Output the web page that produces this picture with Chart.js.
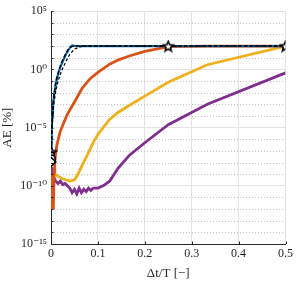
<!DOCTYPE html>
<html lang="en">
<head>
  <meta charset="UTF-8">
  <title>AE vs dt/T</title>
  <script src="https://cdn.jsdelivr.net/npm/chart.js@4.4.1/dist/chart.umd.min.js"></script>
  <style>
    body { margin: 0; background: #fff; }
  </style>
</head>
<body>
<canvas id="aeChart" width="296" height="281"></canvas>
<script>
    // values, AE given as log10 exponents
    const blueT      = [0.0005, 0.001, 0.002, 0.003, 0.004, 0.005, 1/150, 0.01, 1/80, 1/60, 0.02, 0.025, 1/30, 0.04, 0.045, 0.05, 1/15, 0.1, 0.125, 1/6, 0.2, 0.25, 1/3, 0.5];
    const blueLogAE  = [-7.4, -6.2, -5.0, -4.0, -3.3, -2.8, -2.2, -1.3, -0.8, -0.2, 0.2, 0.7, 1.4, 1.85, 2.05, 2.02, 2.0, 2.0, 2.0, 2.0, 2.0, 2.0, 2.0, 2.0];

    const dashT      = [0.0005, 0.001, 0.002, 0.003, 0.004, 0.005, 1/150, 0.01, 1/80, 1/60, 0.02, 0.025, 1/30, 0.04, 0.05, 1/15, 0.1, 0.125, 1/6, 0.2, 0.25, 1/3, 0.5];
    const dashLogAE  = [-7.7, -6.6, -5.6, -4.7, -4.0, -3.4, -2.8, -1.9, -1.4, -0.8, -0.4, 0.1, 0.8, 1.3, 1.75, 2.0, 2.0, 2.0, 2.0, 2.0, 2.0, 2.0, 2.0];

    const starT      = [0.0005, 0.001, 0.002, 0.003, 0.004, 0.005, 1/150, 0.01, 1/80, 1/60, 0.02, 0.025, 1/30, 0.04, 0.05, 1/15, 0.1, 0.125, 1/6, 0.2, 0.25, 1/3, 0.5];
    const starLogAE  = [-7.1, -6.0, -4.8, -3.9, -3.2, -2.7, -2.1, -1.2, -0.7, -0.1, 0.3, 0.8, 1.5, 1.9, 2.03, 2.0, 2.0, 2.0, 2.0, 2.0, 2.0, 2.0, 2.0];
    const starMarkAt = [0.0005, 0.25, 0.5];

    const orangeT     = [0.002, 0.003, 0.004, 0.005, 1/150, 0.008, 0.01, 1/80, 1/60, 0.02, 0.025, 1/30, 0.04, 0.05, 1/15, 1/12, 0.1, 0.125, 1/7, 1/6, 0.2, 0.25, 1/3, 0.5];
    const orangeLogAE = [-9.0, -11.9, -9.6, -12.0, -8.8, -8.0, -7.2, -6.5, -5.8, -5.3, -4.8, -4.0, -3.5, -2.8, -1.6, -0.8, -0.25, 0.45, 0.8, 1.15, 1.55, 1.95, 2.0, 2.0];

    const yellowT     = [0.002, 0.004, 1/150, 1/80, 0.02, 0.025, 1/30, 0.04, 0.05, 1/17, 1/15, 1/13, 1/11, 0.1, 1/9, 0.125, 1/7, 1/6, 0.2, 0.25, 1/3, 0.5];
    const yellowLogAE = [-8.4, -8.8, -9.0, -9.1, -9.3, -9.4, -9.5, -9.6, -9.5, -8.9, -8.2, -7.4, -6.2, -5.6, -5.0, -4.3, -3.7, -3.1, -2.3, -1.1, 0.4, 2.0];

    const purpleT     = [0.002, 0.005, 0.01, 0.015, 0.02, 0.025, 0.03, 0.035, 0.04, 0.045, 0.05, 0.055, 0.06, 0.065, 0.07, 0.075, 0.08, 0.085, 0.09, 0.1, 1/9, 0.125, 1/7, 1/6, 0.2, 0.25, 1/3, 0.5];
    const purpleLogAE = [-8.4, -9.2, -9.6, -9.8, -9.6, -9.9, -9.8, -10.0, -10.2, -10.6, -10.3, -10.7, -10.2, -10.6, -10.3, -10.5, -10.2, -10.4, -10.2, -10.2, -10.0, -9.6, -8.5, -7.4, -6.3, -4.75, -3.0, -0.3];

    // extra start markers at dt/T ~ 0 (square, circle, diamond)
    const startMarkT     = [0.0005, 0.0005, 0.0005];
    const startMarkLogAE = [-7.4, -7.7, -7.95];
    const startMarkStyle = ['rect', 'circle', 'rectRot'];

    const xTicks = [0, 0.1, 0.2, 0.3, 0.4, 0.5];
    const yDecades = [];
    for (let e = -15; e <= 5; e++) yDecades.push(e);

    const sup = {'-': '\u207B', '0': '\u2070', '1': '\u00B9', '5': '\u2075'};
    function decadeLabel(e) {
        return '10' + String(e).split('').map(c => sup[c]).join('');
    }

    function pts(ts, logs) {
        return ts.map((t, i) => ({x: t, y: Math.pow(10, logs[i])}));
    }

    // white pentagram with black outline
    function makeStar(size) {
        const c = document.createElement('canvas');
        c.width = size; c.height = size;
        const g = c.getContext('2d');
        const r = size / 2 - 1.2, ri = r * 0.45, cx = size / 2, cy = size / 2 + 0.5;
        g.beginPath();
        for (let k = 0; k < 10; k++) {
            const rad = (k % 2 === 0) ? r : ri;
            const a = -Math.PI / 2 + k * Math.PI / 5;
            g.lineTo(cx + rad * Math.cos(a), cy + rad * Math.sin(a));
        }
        g.closePath();
        g.fillStyle = '#fff';
        g.fill();
        g.lineWidth = 1.6;
        g.strokeStyle = '#000';
        g.stroke();
        return c;
    }
    const starImg = makeStar(13);

    const axisColor = '#262626';
    const gridColor = '#e3e3e3';
    const serif = "'Liberation Serif', 'DejaVu Serif', serif";

    // dotted minor grid + inward tick marks like MATLAB
    const matlabGrid = {
        id: 'matlabGrid',
        beforeDatasetsDraw(chart) {
            const ctx = chart.ctx, a = chart.chartArea, ys = chart.scales.y;
            ctx.save();
            ctx.strokeStyle = '#c4c4c4';
            ctx.lineWidth = 1;
            ctx.setLineDash([1, 2]);
            yDecades.forEach(e => {
                if (e % 5 === 0) return;
                const py = Math.round(ys.getPixelForValue(Math.pow(10, e))) + 0.5;
                ctx.beginPath();
                ctx.moveTo(a.left, py);
                ctx.lineTo(a.right, py);
                ctx.stroke();
            });
            ctx.restore();
        },
        afterDraw(chart) {
            const ctx = chart.ctx, a = chart.chartArea, ys = chart.scales.y, xs = chart.scales.x;
            ctx.save();
            ctx.strokeStyle = axisColor;
            ctx.lineWidth = 1;
            yDecades.forEach(e => {
                const py = Math.round(ys.getPixelForValue(Math.pow(10, e))) + 0.5;
                ctx.beginPath();
                ctx.moveTo(a.left, py);
                ctx.lineTo(a.left + 2.5, py);
                ctx.stroke();
            });
            xTicks.forEach(v => {
                const px = Math.round(xs.getPixelForValue(v)) + 0.5;
                ctx.beginPath();
                ctx.moveTo(px, a.bottom);
                ctx.lineTo(px, a.bottom - 2.5);
                ctx.stroke();
            });
            ctx.restore();
        }
    };

    new Chart('aeChart', {
        type: 'line',
        data: {
            datasets: [
                {
                    data: pts(startMarkT, startMarkLogAE),
                    showLine: false,
                    pointStyle: startMarkStyle,
                    pointRadius: [4, 4, 4.5],
                    pointBackgroundColor: '#fff',
                    pointBorderColor: '#000',
                    pointBorderWidth: 1.6,
                    order: 0
                },
                {
                    data: pts(starT, starLogAE),
                    borderColor: '#000',
                    borderWidth: 1.5,
                    borderDash: [4, 2],
                    pointStyle: starImg,
                    pointRadius: starT.map(t => starMarkAt.includes(t) ? 6 : 0),
                    order: 1
                },
                {
                    data: pts(dashT, dashLogAE),
                    borderColor: '#000',
                    borderWidth: 1.2,
                    borderDash: [3, 2],
                    pointRadius: 0,
                    order: 2
                },
                {
                    data: pts(blueT, blueLogAE),
                    borderColor: '#0072BD',
                    borderWidth: 2.2,
                    pointRadius: 0,
                    order: 3
                },
                {
                    data: pts(orangeT, orangeLogAE),
                    borderColor: '#D95319',
                    borderWidth: 2.8,
                    pointRadius: 0,
                    order: 4
                },
                {
                    data: pts(purpleT, purpleLogAE),
                    borderColor: '#7E2F8E',
                    borderWidth: 2.8,
                    pointRadius: 0,
                    order: 5
                },
                {
                    data: pts(yellowT, yellowLogAE),
                    borderColor: '#EDB120',
                    borderWidth: 2.8,
                    pointRadius: 0,
                    order: 6
                }
            ]
        },
        options: {
            responsive: false,
            animation: false,
            layout: { padding: { left: 0, top: 8, right: 9, bottom: 0 } },
            plugins: {
                legend: { display: false },
                tooltip: { enabled: false }
            },
            scales: {
                x: {
                    type: 'linear',
                    min: 0,
                    max: 0.5,
                    afterBuildTicks: scale => { scale.ticks = xTicks.map(v => ({value: v})); },
                    afterFit: scale => { scale.height = 37; },
                    ticks: {
                        color: axisColor,
                        font: { family: serif, size: 12 },
                        padding: 3,
                        maxRotation: 0,
                        callback: v => v === 0 ? '0' : v.toFixed(1)
                    },
                    grid: { color: gridColor, drawTicks: false },
                    border: { color: axisColor, width: 1 },
                    title: {
                        display: true,
                        text: '\u0394t/T [\u2212]',
                        color: axisColor,
                        font: { family: serif, size: 13 },
                        padding: { top: 0, bottom: 0 }
                    }
                },
                y: {
                    type: 'logarithmic',
                    min: 1e-15,
                    max: 1e5,
                    afterBuildTicks: scale => { scale.ticks = yDecades.map(e => ({value: Math.pow(10, e)})); },
                    afterFit: scale => { scale.width = 51; },
                    ticks: {
                        color: axisColor,
                        font: { family: serif, size: 12 },
                        padding: 4,
                        autoSkip: false,
                        callback: function (v) {
                            const e = Math.round(Math.log10(v));
                            return e % 5 === 0 ? decadeLabel(e) : '';
                        }
                    },
                    grid: {
                        drawTicks: false,
                        color: ctx => {
                            const e = Math.round(Math.log10(ctx.tick.value));
                            return e % 5 === 0 ? gridColor : 'rgba(0,0,0,0)';
                        }
                    },
                    border: { color: axisColor, width: 1 },
                    title: {
                        display: true,
                        text: 'AE [%]',
                        color: axisColor,
                        font: { family: serif, size: 13 },
                        padding: { top: 0, bottom: 0 }
                    }
                }
            }
        },
        plugins: [matlabGrid]
    });
</script>
</body>
</html>
